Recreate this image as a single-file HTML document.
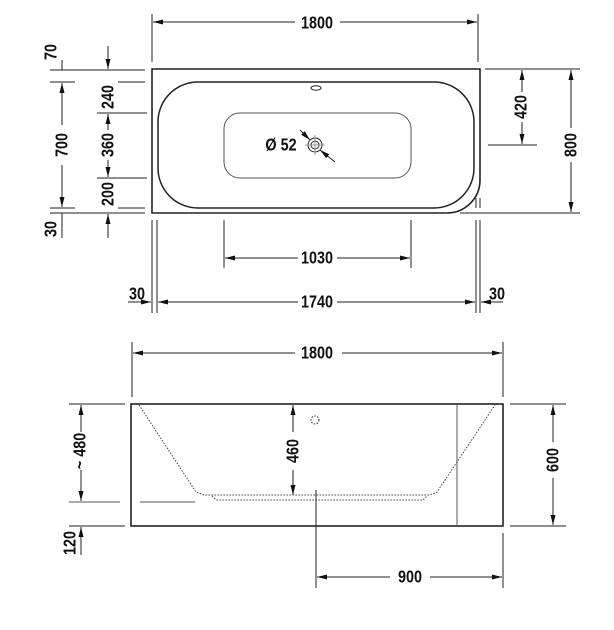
<!DOCTYPE html>
<html><head><meta charset="utf-8"><style>
html,body{margin:0;padding:0;background:#fff}
svg{display:block}
text{font-family:"Liberation Sans",sans-serif;font-weight:bold;font-size:18px;fill:#111;text-anchor:middle;dominant-baseline:central}
</style></head><body>
<svg width="614" height="630" viewBox="0 0 614 630" xmlns="http://www.w3.org/2000/svg">
<defs>
<marker id="a" markerWidth="10" markerHeight="6" refX="10" refY="3" orient="auto" markerUnits="userSpaceOnUse">
<path d="M0,0.5 L10,3 L0,5.5 Z" fill="#111"/></marker>
</defs>
<g stroke="#222" stroke-width="1" fill="none">
<line x1="152" y1="14" x2="152" y2="62"/><line x1="478" y1="14" x2="478" y2="62"/>
<line x1="295" y1="22" x2="153" y2="22" marker-end="url(#a)"/><line x1="340" y1="22" x2="477" y2="22" marker-end="url(#a)"/>
<path d="M152,69 H480 V180 A33,33 0 0 1 447,213 H152 Z" stroke-width="1.6"/>
<rect x="158" y="82" width="316" height="126" rx="40" stroke-width="1.5"/>
<rect x="224" y="113" width="187" height="65" rx="16" stroke="#555"/>
<ellipse cx="316" cy="88" rx="5" ry="2.2"/>
<circle cx="315" cy="145" r="7"/><circle cx="315" cy="145" r="4"/>
<line x1="305" y1="145" x2="325" y2="145" stroke="#999"/><line x1="315" y1="135" x2="315" y2="155" stroke="#999"/>
<line x1="300" y1="130" x2="310" y2="140" marker-end="url(#a)"/><line x1="335" y1="162" x2="320" y2="150" marker-end="url(#a)"/>
<line x1="50" y1="70" x2="145" y2="70"/>
<line x1="50" y1="82" x2="75" y2="82"/><line x1="118" y1="82" x2="145" y2="82"/>
<line x1="97" y1="113" x2="147" y2="113"/><line x1="97" y1="178" x2="147" y2="178"/>
<line x1="50" y1="208" x2="75" y2="208"/><line x1="118" y1="208" x2="145" y2="208"/>
<line x1="50" y1="213" x2="145" y2="213"/>
<line x1="62" y1="60" x2="62" y2="70"/>
<line x1="108" y1="46" x2="108" y2="69" marker-end="url(#a)"/>
<line x1="62" y1="125" x2="62" y2="83" marker-end="url(#a)"/><line x1="62" y1="165" x2="62" y2="207" marker-end="url(#a)"/>
<line x1="108" y1="130" x2="108" y2="114" marker-end="url(#a)"/><line x1="108" y1="160" x2="108" y2="177" marker-end="url(#a)"/>
<line x1="62" y1="213" x2="62" y2="238"/>
<line x1="108" y1="238" x2="108" y2="214" marker-end="url(#a)"/>
<line x1="485" y1="69" x2="580" y2="69"/><line x1="488" y1="145" x2="537" y2="145"/>
<line x1="460" y1="213" x2="580" y2="213"/>
<line x1="522" y1="92" x2="522" y2="70" marker-end="url(#a)"/><line x1="522" y1="122" x2="522" y2="144" marker-end="url(#a)"/>
<line x1="571" y1="128" x2="571" y2="70" marker-end="url(#a)"/><line x1="571" y1="162" x2="571" y2="212" marker-end="url(#a)"/>
<line x1="224" y1="220" x2="224" y2="268"/><line x1="411" y1="220" x2="411" y2="268"/>
<line x1="298" y1="258" x2="225" y2="258" marker-end="url(#a)"/><line x1="337" y1="258" x2="410" y2="258" marker-end="url(#a)"/>
<line x1="152" y1="220" x2="152" y2="313"/><line x1="157" y1="220" x2="157" y2="313"/>
<line x1="476" y1="220" x2="476" y2="313"/><line x1="480" y1="220" x2="480" y2="313"/>
<line x1="476" y1="198" x2="476" y2="208"/><line x1="480" y1="198" x2="480" y2="208"/>
<line x1="298" y1="302" x2="158" y2="302" marker-end="url(#a)"/><line x1="337" y1="302" x2="475" y2="302" marker-end="url(#a)"/>
<line x1="128" y1="302" x2="151" y2="302" marker-end="url(#a)"/>
<line x1="503" y1="302" x2="481" y2="302" marker-end="url(#a)"/>
<line x1="132" y1="342" x2="132" y2="397"/><line x1="503" y1="342" x2="503" y2="397"/>
<line x1="295" y1="353" x2="133" y2="353" marker-end="url(#a)"/><line x1="342" y1="353" x2="502" y2="353" marker-end="url(#a)"/>
<rect x="131" y="404" width="372" height="122" stroke-width="1.6"/>
<line x1="457" y1="404" x2="457" y2="526" stroke="#555"/>
<path d="M139,405 L196,492 L204,495 H430 L437,492 L495,405" stroke-dasharray="1.5,1.5" stroke="#444"/>
<path d="M212,496 L216,500 H423 L427,496" stroke-dasharray="1.5,1.5" stroke="#444"/>
<circle cx="315" cy="420" r="4" stroke-dasharray="1.5,1.5"/>
<line x1="293" y1="432" x2="293" y2="405" marker-end="url(#a)"/><line x1="293" y1="470" x2="293" y2="495" marker-end="url(#a)"/>
<line x1="316" y1="490" x2="316" y2="588"/>
<line x1="503" y1="533" x2="503" y2="588"/>
<line x1="390" y1="577" x2="317" y2="577" marker-end="url(#a)"/><line x1="430" y1="577" x2="502" y2="577" marker-end="url(#a)"/>
<line x1="69" y1="404" x2="125" y2="404"/>
<line x1="69" y1="502" x2="120" y2="502" stroke="#555"/><line x1="140" y1="502" x2="195" y2="502" stroke="#777" stroke-width="1.2"/>
<line x1="69" y1="526" x2="125" y2="526"/>
<line x1="81" y1="432" x2="81" y2="405" marker-end="url(#a)"/><line x1="81" y1="470" x2="81" y2="501" marker-end="url(#a)"/>
<line x1="81" y1="555" x2="81" y2="527" marker-end="url(#a)"/>
<line x1="510" y1="404" x2="566" y2="404"/><line x1="510" y1="526" x2="566" y2="526"/>
<line x1="553" y1="442" x2="553" y2="405" marker-end="url(#a)"/><line x1="553" y1="478" x2="553" y2="525" marker-end="url(#a)"/>
</g>
<g>
<g transform="translate(317,23)"><text transform="scale(0.8,1)">1800</text></g>
<g transform="translate(51,52) rotate(-90)"><text transform="scale(0.8,1)">70</text></g>
<g transform="translate(108,97) rotate(-90)"><text transform="scale(0.8,1)">240</text></g>
<g transform="translate(62,145) rotate(-90)"><text transform="scale(0.8,1)">700</text></g>
<g transform="translate(108,145) rotate(-90)"><text transform="scale(0.8,1)">360</text></g>
<g transform="translate(108,194) rotate(-90)"><text transform="scale(0.8,1)">200</text></g>
<g transform="translate(51,229) rotate(-90)"><text transform="scale(0.8,1)">30</text></g>
<g transform="translate(521,107) rotate(-90)"><text transform="scale(0.8,1)">420</text></g>
<g transform="translate(571,145) rotate(-90)"><text transform="scale(0.8,1)">800</text></g>
<g transform="translate(281,145)"><text transform="scale(0.8,1)">Ø 52</text></g>
<g transform="translate(317,258)"><text transform="scale(0.8,1)">1030</text></g>
<g transform="translate(317,302)"><text transform="scale(0.8,1)">1740</text></g>
<g transform="translate(137,294)"><text transform="scale(0.8,1)">30</text></g>
<g transform="translate(497,294)"><text transform="scale(0.8,1)">30</text></g>
<g transform="translate(317,353)"><text transform="scale(0.8,1)">1800</text></g>
<g transform="translate(293,451) rotate(-90)"><text transform="scale(0.8,1)">460</text></g>
<g transform="translate(80,451) rotate(-90)"><text transform="scale(0.8,1)">~ 480</text></g>
<g transform="translate(553,460) rotate(-90)"><text transform="scale(0.8,1)">600</text></g>
<g transform="translate(70,543) rotate(-90)"><text transform="scale(0.8,1)">120</text></g>
<g transform="translate(410,577)"><text transform="scale(0.8,1)">900</text></g>
</g>
</svg>
</body></html>
